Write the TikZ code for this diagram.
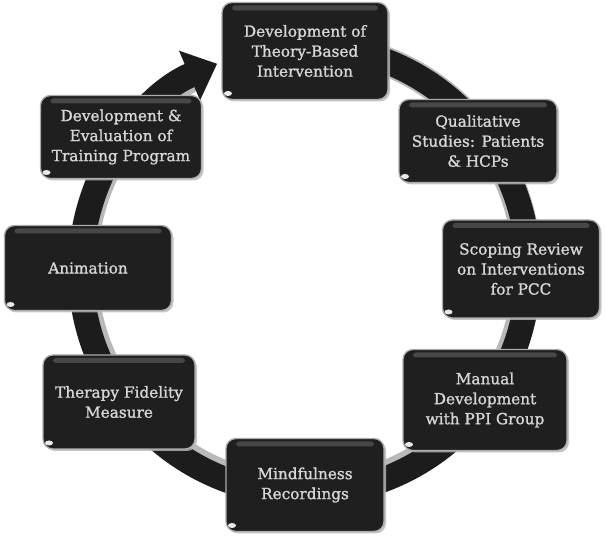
\documentclass[tikz,border=0pt]{standalone}
\usepackage{fontspec}
\setmainfont{DejaVu Serif}[FakeBold=1.3]
\usetikzlibrary{arrows.meta,shadows}
\definecolor{boxfill}{HTML}{1F1F1F}
\definecolor{boxtext}{HTML}{D6D6D6}
\definecolor{ringcol}{HTML}{1C1C1C}
\tikzset{
  cyclebox/.style={rounded corners=10pt, fill=boxfill, draw=gray!65, line width=1.3pt,
    text=boxtext, align=center, inner sep=0pt,
    font=\fontsize{15.3}{20}\selectfont\mdseries,
    drop shadow={shadow xshift=2pt, shadow yshift=-2pt, fill=gray!55, opacity=0.8},
    path picture={
      \fill[white, opacity=0.18, rounded corners=3pt]
        ([xshift=10pt,yshift=-3pt]path picture bounding box.north west) rectangle
        ([xshift=-10pt,yshift=-8pt]path picture bounding box.north east);
      \fill[white, opacity=0.9]
        ([xshift=6pt,yshift=6pt]path picture bounding box.south west) ellipse (4pt and 2.5pt);
    }},
  ringedge/.style={line width=29pt, gray!55},
  ringband/.style={line width=25pt, ringcol}
}
\begin{document}
\begin{tikzpicture}[x=1pt,y=1pt]
\useasboundingbox (0,0) rectangle (606,540);
\fill[white] (0,0) rectangle (606,540);
\coordinate (c) at (305,272);
% ring
\draw[ringedge] (c) ++(80:222) arc[start angle=80, end angle=-240, radius=222];
\draw[ringband, -{Triangle[width=52pt,length=30pt]}] (c) ++(80:222) arc[start angle=80, end angle=-247, radius=224];
% boxes
\node[cyclebox, minimum width=166pt, minimum height=97pt] (n1) at (305,489) {Development of\\Theory-Based\\Intervention};
\node[cyclebox, minimum width=158pt, minimum height=83pt] (n2) at (478,399) {Qualitative\\Studies: Patients\\\& HCPs};
\node[cyclebox, minimum width=157pt, minimum height=98pt] (n3) at (521,271) {Scoping Review\\on Interventions\\for PCC};
\node[cyclebox, minimum width=164pt, minimum height=101pt] (n4) at (485,140) {Manual\\Development\\with PPI Group};
\node[cyclebox, minimum width=158pt, minimum height=93pt] (n5) at (305,55) {Mindfulness\\Recordings};
\node[cyclebox, minimum width=152pt, minimum height=94pt] (n6) at (119,138) {Therapy Fidelity\\Measure};
\node[cyclebox, minimum width=167pt, minimum height=85pt] (n7) at (88,272) {Animation};
\node[cyclebox, minimum width=161pt, minimum height=83pt] (n8) at (121,403) {Development \&\\Evaluation of\\Training Program};
\end{tikzpicture}
\end{document}
